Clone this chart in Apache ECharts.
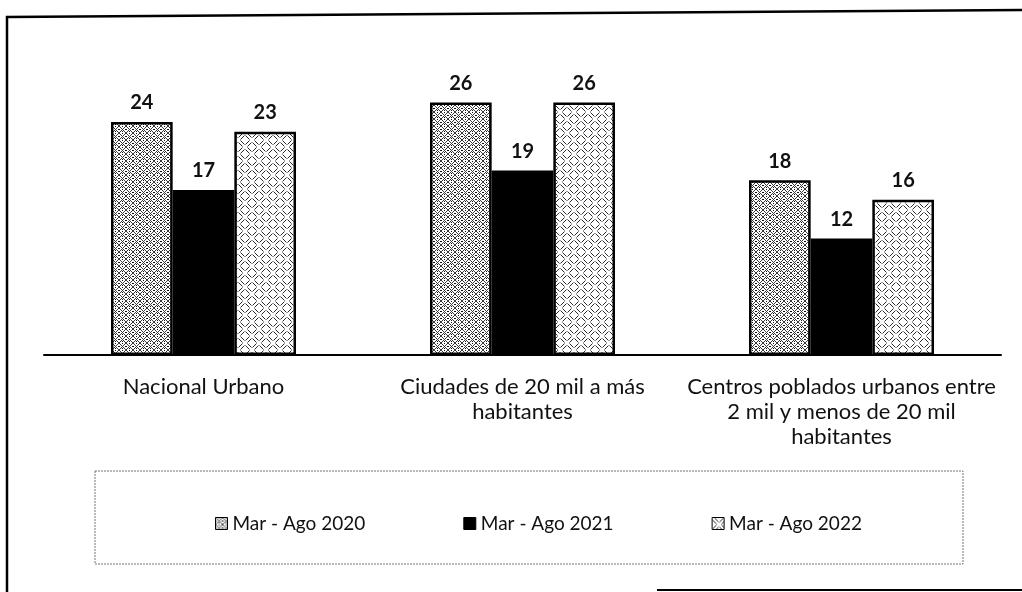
<!DOCTYPE html>
<html>
<head>
<meta charset="utf-8">
<script src="https://cdn.jsdelivr.net/npm/echarts@6/dist/echarts.min.js"></script>
<style>
  html, body { margin: 0; padding: 0; background: #fff; }
  #chart { width: 1022px; height: 592px; }
</style>
</head>
<body>
<div id="chart"></div>
<script>
// Categories (multi-line labels) and the three periods
const categories = [
  'Nacional Urbano',
  'Ciudades de 20 mil a más\nhabitantes',
  'Centros poblados urbanos entre\n2 mil y menos de 20 mil\nhabitantes'
];
const seriesNames = ['Mar - Ago 2020', 'Mar - Ago 2021', 'Mar - Ago 2022'];
const values2020 = [24, 26, 18];
const values2021 = [17, 19, 12];
const values2022 = [23, 26, 16];

const FONT = 'Lato, "Open Sans", sans-serif';

// Tile: diagonal cross-hatch with dots
function crossHatchTile() {
  const s = 7;
  const c = document.createElement('canvas');
  c.width = s; c.height = s;
  const g = c.getContext('2d');
  g.fillStyle = '#fff'; g.fillRect(0, 0, s, s);
  g.strokeStyle = '#3a3a3a'; g.lineWidth = 1;
  g.beginPath();
  g.moveTo(0, 0); g.lineTo(s, s);
  g.moveTo(s, 0); g.lineTo(0, s);
  g.stroke();
  g.fillStyle = '#111';
  g.fillRect(3, 0, 1, 1);
  g.fillRect(0, 3, 1, 1);
  g.fillRect(3, 5, 1, 1);
  g.fillRect(6, 3, 1, 1);
  return c;
}

// Tile: basket weave of short diagonal strokes in alternating directions
function weaveTile() {
  const s = 14, h = s / 2;
  const c = document.createElement('canvas');
  c.width = s; c.height = s;
  const g = c.getContext('2d');
  g.fillStyle = '#fff'; g.fillRect(0, 0, s, s);
  g.strokeStyle = '#2a2a2a'; g.lineWidth = 1;
  g.beginPath();
  // top-left and bottom-right blocks: "\" strokes
  [[0, 0], [h, h]].forEach(([x, y]) => {
    g.moveTo(x + 0.5, y + 2.5); g.lineTo(x + 4.5, y + 6.5);
    g.moveTo(x + 2.5, y + 0.5); g.lineTo(x + 6.5, y + 4.5);
  });
  // top-right and bottom-left blocks: "/" strokes
  [[h, 0], [0, h]].forEach(([x, y]) => {
    g.moveTo(x + 6.5, y + 2.5); g.lineTo(x + 2.5, y + 6.5);
    g.moveTo(x + 4.5, y + 0.5); g.lineTo(x + 0.5, y + 4.5);
  });
  g.stroke();
  return c;
}

const pat2020 = { image: crossHatchTile(), repeat: 'repeat' };
const pat2022 = { image: weaveTile(), repeat: 'repeat' };

const labelStyle = {
  show: true,
  position: 'top',
  distance: 9,
  fontFamily: FONT,
  fontWeight: 'bold',
  fontSize: 20,
  color: '#111'
};

function barSeries(name, data, color, border) {
  return {
    name: name,
    type: 'bar',
    data: data,
    barGap: '0%',
    barCategoryGap: '42%',
    itemStyle: {
      color: color,
      borderColor: '#000',
      borderWidth: border
    },
    label: labelStyle
  };
}

const chart = echarts.init(document.getElementById('chart'), null, { renderer: 'canvas' });

chart.setOption({
  backgroundColor: '#fff',
  animation: false,
  grid: { left: 44, right: 21, top: 54, bottom: 237 },
  xAxis: {
    type: 'category',
    data: categories,
    axisLine: { lineStyle: { color: '#000', width: 2 } },
    axisTick: { show: false },
    axisLabel: {
      interval: 0,
      margin: 19,
      fontFamily: FONT,
      fontSize: 22,
      color: '#111',
      lineHeight: 25,
      align: 'center'
    }
  },
  yAxis: {
    type: 'value',
    min: 0,
    max: 31,
    show: false,
    splitLine: { show: false }
  },
  legend: {
    data: seriesNames,
    top: 509,
    left: 210,
    icon: 'rect',
    itemWidth: 12,
    itemHeight: 12,
    itemGap: 98,
    textStyle: { fontFamily: FONT, fontSize: 19, color: '#111' },
    itemStyle: { borderColor: '#000', borderWidth: 1 }
  },
  graphic: [
    // Legend frame
    {
      type: 'rect',
      shape: { x: 95, y: 471, width: 868, height: 93 },
      style: { fill: 'none', stroke: '#777', lineWidth: 1, lineDash: [2, 1] },
      z: -1
    },
    // Outer frame: left and top edges
    {
      type: 'polyline',
      shape: { points: [[7, 592], [7, 17], [1022, 10]] },
      style: { stroke: '#000', lineWidth: 2.5, fill: 'none' }
    },
    // Outer frame: bottom edge segment
    {
      type: 'line',
      shape: { x1: 657, y1: 590, x2: 1022, y2: 590 },
      style: { stroke: '#000', lineWidth: 2 }
    }
  ],
  series: [
    barSeries(seriesNames[0], values2020, pat2020, 2.5),
    barSeries(seriesNames[1], values2021, '#000', 0),
    barSeries(seriesNames[2], values2022, pat2022, 2.5)
  ]
});
</script>
</body>
</html>
